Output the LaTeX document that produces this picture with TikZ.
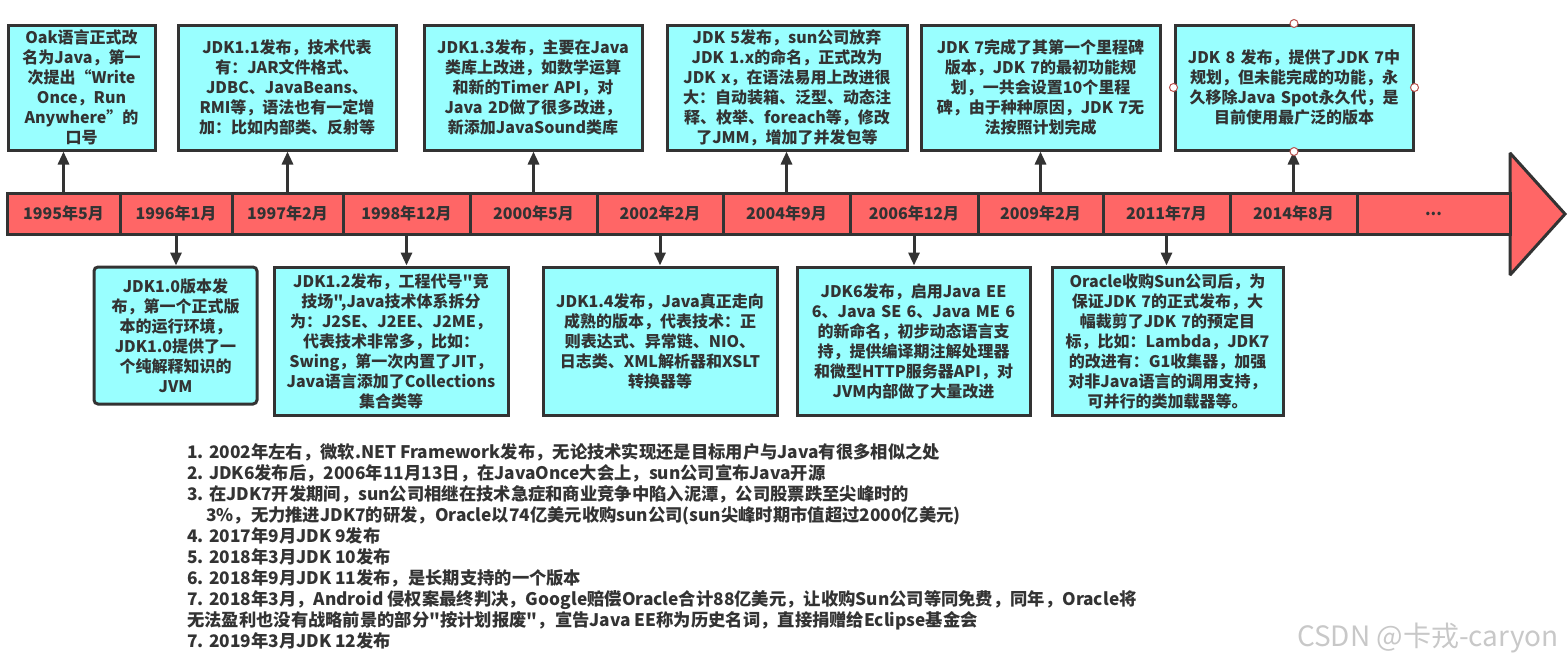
\documentclass[tikz,border=0pt]{standalone}
\usepackage{fontspec}
\setmainfont{Noto Sans CJK SC}[Ligatures=TeXOff]
\usetikzlibrary{arrows.meta}
\definecolor{rd}{HTML}{FF6666}
\definecolor{cy}{HTML}{99FFFF}
\definecolor{lc}{HTML}{333333}
\definecolor{tc}{HTML}{333333}
\definecolor{wmc}{HTML}{C8C8C8}
\definecolor{hdl}{HTML}{B85450}
\newcommand\dq{\symbol{34}}
\newcommand\myboxfont{\bfseries\fontsize{16}{20}\selectfont}
\newcommand\mybotfont{\bfseries\fontsize{16}{20}\selectfont}
\newcommand\mycellfont{\bfseries\fontsize{16}{18}\selectfont}
\newcommand\mylistfont{\bfseries\fontsize{17.3}{21}\selectfont}
\begin{document}
\begin{tikzpicture}[x=1pt,y=-1pt,
  tbox/.style={draw=lc, line width=3pt, fill=cy, minimum height=125, inner sep=0pt, align=center, font=\myboxfont, text=tc},
  bbox/.style={draw=lc, line width=3pt, fill=cy, inner sep=0pt, align=center, font=\mybotfont, text=tc},
  cell/.style={draw=lc, line width=3pt, fill=rd, minimum height=41, inner sep=0pt, font=\mycellfont, text=tc},
  arr/.style={draw=lc, line width=3pt, -{Triangle[length=13pt,width=11pt]}},
  handle/.style={draw=hdl, fill=white, line width=1pt, circle, minimum size=8pt, inner sep=0pt}]
\useasboundingbox (0,0) rectangle (1568,667);
% timeline arrow head
\draw[draw=lc, line width=3pt, fill=rd, line join=miter, miter limit=2] (1510,153) -- (1565,214) -- (1510,275) -- cycle;
% cells
\node[cell, minimum width=113] (c1) at (63.5,213.5) {1995年5月};
\node[cell, minimum width=112] (c2) at (176,213.5) {1996年1月};
\node[cell, minimum width=111] (c3) at (287.5,213.5) {1997年2月};
\node[cell, minimum width=127] (c4) at (406.5,213.5) {1998年12月};
\node[cell, minimum width=127] (c5) at (533.5,213.5) {2000年5月};
\node[cell, minimum width=126] (c6) at (660,213.5) {2002年2月};
\node[cell, minimum width=127] (c7) at (786.5,213.5) {2004年9月};
\node[cell, minimum width=128] (c8) at (914,213.5) {2006年12月};
\node[cell, minimum width=125] (c9) at (1040.5,213.5) {2009年2月};
\node[cell, minimum width=127] (c10) at (1166.5,213.5) {2011年7月};
\node[cell, minimum width=127] (c11) at (1293.5,213.5) {2014年8月};
\node[cell, minimum width=153] (c12) at (1433.5,213.5) {...};
% top boxes
\node[tbox, minimum width=147, text width=142] (t1) at (81.5,87.5) {Oak语言正式改\\名为Java，第一\\次提出“Write\\Once，Run\\Anywhere”的\\口号};
\node[tbox, minimum width=218, text width=212] (t2) at (287,87.5) {JDK1.1发布，技术代表\\有：JAR文件格式、\\JDBC、JavaBeans、\\RMI等，语法也有一定增\\加：比如内部类、反射等};
\node[tbox, minimum width=218, text width=212] (t3) at (533,87.5) {JDK1.3发布，主要在Java\\类库上改进，如数学运算\\和新的Timer API，对\\Java 2D做了很多改进，\\新添加JavaSound类库};
\node[tbox, minimum width=240, text width=234] (t4) at (787,87.5) {JDK 5发布，sun公司放弃\\JDK 1.x的命名，正式改为\\JDK x，在语法易用上改进很\\大：自动装箱、泛型、动态注\\释、枚举、foreach等，修改\\了JMM，增加了并发包等};
\node[tbox, minimum width=239, text width=233] (t5) at (1040.5,87.5) {JDK 7完成了其第一个里程碑\\版本，JDK 7的最初功能规\\划，一共会设置10个里程\\碑，由于种种原因，JDK 7无\\法按照计划完成};
\node[tbox, minimum width=238, text width=232] (t6) at (1294,87.5) {JDK 8 发布，提供了JDK 7中\\规划，但未能完成的功能，永\\久移除Java Spot永久代，是\\目前使用最广泛的版本};
% bottom boxes
\node[bbox, rounded corners=4pt, minimum width=163, minimum height=137, text width=158] (b1) at (175.5,335.5) {JDK1.0版本发\\布，第一个正式版\\本的运行环境，\\JDK1.0提供了一\\个纯解释知识的\\JVM};
\node[bbox, minimum width=234, minimum height=148, text width=228] (b2) at (391,341) {JDK1.2发布，工程代号\dq 竞\\技场\dq,Java技术体系拆分\\为：J2SE、J2EE、J2ME，\\代表技术非常多，比如：\\Swing，第一次内置了JIT，\\Java语言添加了Collections\\集合类等};
\node[bbox, minimum width=234, minimum height=148, text width=228] (b3) at (660,341) {JDK1.4发布，Java真正走向\\成熟的版本，代表技术：正\\则表达式、异常链、NIO、\\日志类、XML解析器和XSLT\\转换器等};
\node[bbox, minimum width=233, minimum height=148, text width=227] (b4) at (913.5,341) {JDK6发布，启用Java EE\\6、Java SE 6、Java ME 6\\的新命名，初步动态语言支\\持，提供编译期注解处理器\\和微型HTTP服务器API，对\\JVM内部做了大量改进};
\node[bbox, minimum width=231, minimum height=148, text width=225] (b5) at (1167.5,341) {Oracle收购Sun公司后，为\\保证JDK 7的正式发布，大\\幅裁剪了JDK 7的预定目\\标，比如：Lambda，JDK7\\的改进有：G1收集器，加强\\对非Java语言的调用支持，\\可并行的类加载器等。};
% connectors up
\draw[arr] (c1.north) -- (c1.north |- t1.south);
\draw[arr] (c3.north) -- (c3.north |- t2.south);
\draw[arr] (c5.north) -- (c5.north |- t3.south);
\draw[arr] (c7.north) -- (c7.north |- t4.south);
\draw[arr] (c9.north) -- (c9.north |- t5.south);
\draw[arr] (c11.north) -- (c11.north |- t6.south);
% connectors down
\draw[arr] (c2.south) -- (c2.south |- b1.north);
\draw[arr] (c4.south) -- (c4.south |- b2.north);
\draw[arr] (c6.south) -- (c6.south |- b3.north);
\draw[arr] (c8.south) -- (c8.south |- b4.north);
\draw[arr] (c10.south) -- (c10.south |- b5.north);
% selection handles on JDK 8 box
\node[handle] (h1) at (t6.north) {};
\node[handle] (h2) at (t6.south) {};
\node[handle] (h3) at (t6.west) {};
\node[handle] (h4) at (t6.east) {};
% notes
\node[anchor=base west, align=left, inner sep=0pt, font=\mylistfont, text=tc] (notes) at (187,647) {1. 2002年左右，微软.NET Framework发布，无论技术实现还是目标用户与Java有很多相似之处\\
2. JDK6发布后，2006年11月13日，在JavaOnce大会上，sun公司宣布Java开源\\
3. 在JDK7开发期间，sun公司相继在技术急症和商业竞争中陷入泥潭，公司股票跌至尖峰时的\\
\hspace*{19pt}3\%，无力推进JDK7的研发，Oracle以74亿美元收购sun公司(sun尖峰时期市值超过2000亿美元)\\
4. 2017年9月JDK 9发布\\
5. 2018年3月JDK 10发布\\
6. 2018年9月JDK 11发布，是长期支持的一个版本\\
7. 2018年3月，Android 侵权案最终判决，Google赔偿Oracle合计88亿美元，让收购Sun公司等同免费，同年，Oracle将\\
无法盈利也没有战略前景的部分\dq 按计划报废\dq ，宣告Java EE称为历史名词，直接捐赠给Eclipse基金会\\
7. 2019年3月JDK 12发布};
% watermark
\node[font=\fontsize{28}{32}\selectfont, text=wmc, inner sep=0pt] (wm) at (1428,638) {CSDN @卡戎-caryon};
\end{tikzpicture}
\end{document}
